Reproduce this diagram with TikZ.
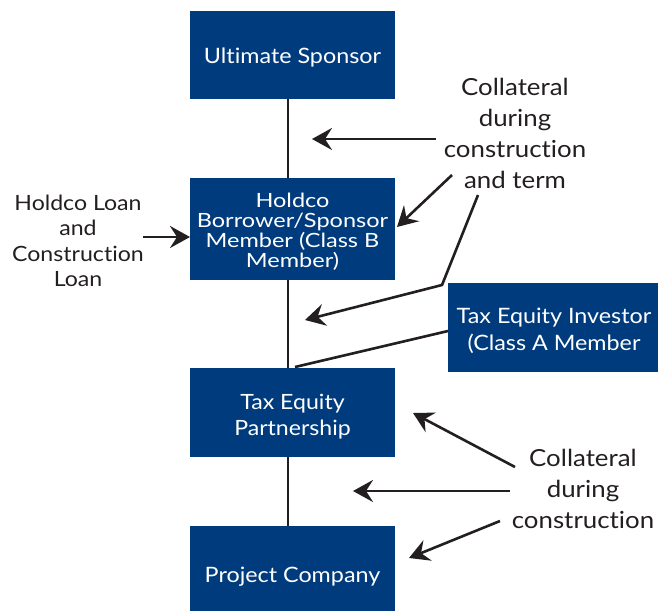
\documentclass[tikz,border=0pt]{standalone}
\usepackage{fontspec}
\setmainfont{Lato}[FakeStretch=1.1, Ligatures=NoCommon]
\newfontfamily\widefont{Lato}[FakeStretch=1.2, Ligatures=NoCommon]
\usetikzlibrary{arrows.meta}
\definecolor{boxblue}{RGB}{0,60,125}
\definecolor{ink}{RGB}{35,31,32}
% stacked centred lines with a fixed baseline distance
\newcommand\stk[2]{\vbox{\baselineskip=#1\relax\lineskiplimit=-100pt\relax
  \halign{\hfil##\hfil\cr#2\crcr}}}
\tikzset{
  bbox/.style={fill=boxblue, text=white, minimum width=205pt, inner sep=0pt,
    text depth=0pt, font=\fontsize{21.2}{26}\selectfont},
  lbl/.style={text=ink, align=center, inner sep=0pt, font=\fontsize{23.5}{31}\selectfont},
  conn/.style={draw=ink, line width=2.6pt},
  arr/.style={conn, -{Stealth[length=20pt,width=22pt,inset=7pt]}}
}
\begin{document}
\begin{tikzpicture}[x=1pt,y=-1pt]
\useasboundingbox (0,0) rectangle (658,610);
\clip (0,0) rectangle (658,610);
% boxes
\node[bbox, minimum height=88pt, text height=16.2pt] (us) at (292.5,55) {Ultimate Sponsor};
\node[bbox, minimum height=102pt, text height=76.5pt, font=\widefont\fontsize{19.6}{19.8}\selectfont] (hold) at (292.5,229)
  {\stk{19.8pt}{Holdco\cr Borrower/Sponsor\cr Member (Class B\cr Member)}};
\node[bbox, minimum width=212pt, minimum height=89pt, text height=45.2pt] (tei) at (554,327.5)
  {\stk{27pt}{Tax Equity Investor\cr (Class A Member}};
\node[bbox, minimum height=89pt, text height=46pt, font=\fontsize{21}{26}\selectfont] (tep) at (292.5,412.5)
  {\stk{26pt}{Tax Equity\cr Partnership}};
\node[bbox, minimum height=98pt, text height=15.2pt] (pc) at (292.5,575) {Project Company};
% vertical connectors
\draw[conn] ([xshift=-4.5pt]us.south) -- ([xshift=-4.5pt]hold.north);
\draw[conn] ([xshift=-4.5pt]hold.south) -- ([xshift=-4.5pt]tep.north);
\draw[conn] ([xshift=-4.5pt]tep.south) -- ([xshift=-4.5pt]pc.north);
\coordinate (teiS) at (448,331);
\coordinate (tepN) at (295,367);
\draw[conn] (teiS) -- (tepN);
% labels
\node[lbl] (ctop) at (515,133) {Collateral\\during\\construction\\and term};
\node[lbl, font=\fontsize{21}{25.5}\selectfont] (loan) at (78,241) {Holdco Loan\\and\\Construction\\Loan};
\node[lbl] (cbot) at (583,489) {Collateral\\during\\construction};
% arrows from top label
\coordinate (s1) at (436,139); \coordinate (t1) at (312,139);
\coordinate (s2) at (452,175); \coordinate (t2) at (397,227);
\coordinate (s3) at (478,195); \coordinate (t3b) at (442,285); \coordinate (t3) at (305,320);
\draw[arr] (s1) -- (t1);
\draw[arr] (s2) -- (t2);
\draw[arr] (s3) -- (t3b) -- (t3);
% arrow from left label
\coordinate (sl) at (143,237); \coordinate (tl) at (190,237);
\draw[arr] (sl) -- (tl);
% arrows from bottom label
\coordinate (sb1) at (515,467); \coordinate (b1) at (413,413);
\coordinate (sb2) at (510,491); \coordinate (b2) at (353,491);
\coordinate (sb3) at (500,521); \coordinate (b3) at (409,558);
\draw[arr] (sb1) -- (b1);
\draw[arr] (sb2) -- (b2);
\draw[arr] (sb3) -- (b3);
\end{tikzpicture}
\end{document}
